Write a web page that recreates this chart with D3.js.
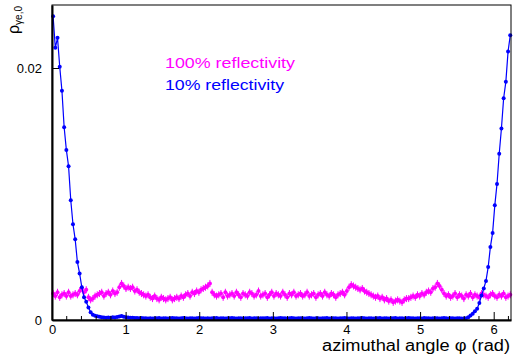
<!DOCTYPE html>
<html><head><meta charset="utf-8">
<script src="https://cdn.jsdelivr.net/npm/d3@7"></script>
<style>body{margin:0;background:#fff}svg{display:block}text{font-family:"Liberation Sans",Arial,sans-serif}</style>
</head><body>
<svg id="c" width="513" height="362"></svg>
<script>
// bin centres: phi = phiStart + i*phiStep (rad)
const phiStart = 0.015, phiStep = 0.03;
// values in units of 1e-3
const blueVals = [
24.1,21.6,22.4,20.1,18.2,15.3,13.5,12.2,9.5,7.6,6.4,4.6,3.7,2.6,1.8,1.45,1.0,0.62,0.42,0.34,0.3,0.26,0.22,0.2,
0.18,0.2,0.17,0.21,0.19,0.24,0.28,0.32,0.26,0.22,0.2,0.18,0.17,0.16,0.15,0.14,0.15,0.13,0.14,0.12,
0.13,0.12,0.14,0.13,0.15,0.12,0.13,0.14,0.12,0.13,0.15,0.14,0.13,0.12,0.14,0.16,0.13,0.12,0.13,0.14,
0.12,0.13,0.15,0.13,0.14,0.12,0.13,0.12,0.14,0.13,0.15,0.12,0.14,0.13,0.12,0.13,0.14,0.15,0.13,0.12,
0.14,0.13,0.12,0.14,0.13,0.15,0.12,0.13,0.14,0.12,0.13,0.14,0.13,0.15,0.12,0.13,0.14,0.12,0.13,0.15,
0.13,0.14,0.12,0.13,0.15,0.14,0.12,0.13,0.14,0.13,0.12,0.14,0.15,0.13,0.12,0.14,0.13,0.12,0.14,0.13,
0.15,0.12,0.13,0.14,0.13,0.12,0.14,0.13,0.15,0.14,0.12,0.13,0.14,0.12,0.13,0.14,0.15,0.13,0.12,0.14,
0.13,0.12,0.14,0.13,0.15,0.12,0.14,0.13,0.12,0.14,0.13,0.15,0.12,0.13,0.14,0.12,0.13,0.15,0.14,0.13,
0.12,0.14,0.13,0.12,0.15,0.13,0.14,0.12,0.13,0.14,0.13,0.12,0.14,0.15,0.13,0.12,0.14,0.13,0.12,0.13,
0.14,0.12,
0.12,0.14,0.22,0.35,0.5,0.7,0.9,1.35,1.95,2.5,3.1,4.2,5.8,6.9,9.1,10.8,13.2,15.2,17.6,18.9,21.3,22.6
];
const magentaVals = [
2.1,1.9,2.2,1.8,2.0,2.1,1.9,2.2,1.9,2.0,2.1,2.0,
2.3,2.5,2.2,2.4,
1.8,1.6,1.7,1.9,
2.0,2.1,2.2,1.9,2.1,2.2,2.0,2.3,2.1,2.2,
2.6,2.9,2.7,2.5,
2.6,2.5,2.6,2.3,2.4,
2.2,2.1,2.0,1.9,2.0,
1.8,1.7,1.9,1.7,1.6,1.8,1.7,1.6,1.7,1.8,1.6,1.7,1.8,1.7,1.9,1.8,
2.0,2.1,1.9,2.2,2.1,2.3,2.2,
2.4,2.5,2.6,2.7,2.9,
2.2,2.0,1.9,
2.0,2.1,1.8,2.2,1.9,2.0,2.1,1.9,2.2,2.0,1.8,2.1,2.0,1.9,2.2,2.1,1.9,2.0,2.3,1.9,
2.0,2.1,1.8,2.0,2.2,1.9,2.1,2.0,1.9,2.2,2.0,1.8,2.1,2.0,2.2,1.9,2.0,2.1,1.9,2.0,
2.2,1.9,2.0,2.1,1.8,2.0,2.1,1.9,2.2,2.0,1.9,2.1,2.0,1.8,2.0,2.1,2.2,2.0,
2.3,2.6,2.8,2.7,2.6,2.5,
2.4,2.5,2.3,2.2,2.1,2.0,1.9,
1.8,1.9,1.7,1.8,1.6,1.7,
1.5,1.6,1.4,1.5,1.6,1.5,1.4,1.6,1.7,
1.7,1.8,1.9,1.8,2.0,1.9,2.1,2.0,2.2,
2.3,2.2,2.5,2.6,2.9,2.7,
2.4,2.1,1.9,
2.0,1.8,1.9,2.1,1.8,2.0,1.9,1.7,2.0,1.9,2.1,1.8,2.0,1.9,1.8,2.1,2.0,1.9,1.8,2.0,
2.1,1.9,1.8,2.0,1.9,2.1,1.8,1.9,2.0
];
const magErr = 0.28; // 1e-3
const xTicks = [0,1,2,3,4,5,6];
const yTicks = [0, 0.02];
const yTickLabels = ["0", "0.02"];
const legendLabels = ["100% reflectivity", "10% reflectivity"];
const xTitle = "azimuthal angle \u03c6 (rad)";

const blue = blueVals.map((v,i)=>({x: phiStart+i*phiStep, y: v*1e-3}));
const mag = magentaVals.map((v,i)=>({x: phiStart+i*phiStep, y: v*1e-3}));

const svg = d3.select("#c");
const L=52, R=511, T=5, B=320;
const x = d3.scaleLinear().domain([0, 6.235]).range([L, R]);
const y = d3.scaleLinear().domain([0, 0.025]).range([B, T]);

const MAG="#ff00ff", BLU="#0000ff";

// magenta error bars + markers
const gm = svg.append("g");
gm.selectAll("line.v").data(mag).join("line").attr("class","v")
  .attr("x1",d=>x(d.x)).attr("x2",d=>x(d.x))
  .attr("y1",d=>y(d.y-magErr*1e-3)).attr("y2",d=>y(d.y+magErr*1e-3))
  .attr("stroke",MAG).attr("stroke-width",1);
gm.selectAll("line.h").data(mag).join("line").attr("class","h")
  .attr("x1",d=>x(d.x-phiStep/2)).attr("x2",d=>x(d.x+phiStep/2))
  .attr("y1",d=>y(d.y)).attr("y2",d=>y(d.y))
  .attr("stroke",MAG).attr("stroke-width",1);
gm.selectAll("circle").data(mag).join("circle")
  .attr("cx",d=>x(d.x)).attr("cy",d=>y(d.y)).attr("r",2).attr("fill",MAG);

// blue line + markers
const gb = svg.append("g");
gb.append("path").datum(blue)
  .attr("d", d3.line().x(d=>x(d.x)).y(d=>y(d.y)))
  .attr("fill","none").attr("stroke",BLU).attr("stroke-width",1.2);
gb.selectAll("circle").data(blue).join("circle")
  .attr("cx",d=>x(d.x)).attr("cy",d=>y(d.y)).attr("r",2).attr("fill",BLU);

// frame
svg.append("rect").attr("x",L).attr("y",T).attr("width",R-L).attr("height",B-T)
  .attr("fill","none").attr("stroke","#000").attr("stroke-width",1);

// x axis
const xa = d3.axisBottom(x).tickValues(xTicks).tickSizeInner(-8).tickSizeOuter(0).tickPadding(5).tickFormat(d3.format("d"));
const gx = svg.append("g").attr("transform",`translate(0,${B})`).call(xa);
gx.select(".domain").attr("stroke-width",2);
gx.selectAll(".tick line").attr("stroke-width",1);
gx.selectAll(".tick text").attr("font-size",13).attr("fill","#000").attr("font-family","Liberation Sans, Arial, sans-serif");
// minor ticks
const minor = d3.range(0, 6.23, 0.2).filter(v=>Math.abs(v-Math.round(v))>1e-6);
gx.selectAll(".minor").data(minor).join("line").attr("class","minor")
  .attr("x1",d=>x(d)).attr("x2",d=>x(d)).attr("y1",0).attr("y2",-4).attr("stroke","#000");

// y axis
const ya = d3.axisLeft(y).tickValues(yTicks).tickSizeInner(-7).tickSizeOuter(0).tickPadding(10)
  .tickFormat((d,i)=>yTickLabels[i]);
const gy = svg.append("g").attr("transform",`translate(${L},0)`).call(ya);
gy.select(".domain").attr("stroke-width",2);
gy.selectAll(".tick text").attr("font-size",13).attr("fill","#000").attr("font-family","Liberation Sans, Arial, sans-serif");

// axis titles
svg.append("text").attr("x",510).attr("y",351).attr("text-anchor","end")
  .attr("font-size",16).attr("textLength",188).attr("lengthAdjust","spacingAndGlyphs").text(xTitle);
const yl = svg.append("text").attr("transform","translate(19,34) rotate(-90)").attr("font-size",16);
yl.append("tspan").text("\u03c1");
yl.append("tspan").attr("font-size",10).attr("dy",3).text("\u03b3e,0");

// legend texts
svg.append("text").attr("x",165).attr("y",68).attr("fill",MAG).attr("font-size",15)
  .attr("textLength",130).attr("lengthAdjust","spacingAndGlyphs").text(legendLabels[0]);
svg.append("text").attr("x",165).attr("y",90).attr("fill",BLU).attr("font-size",15)
  .attr("textLength",119).attr("lengthAdjust","spacingAndGlyphs").text(legendLabels[1]);
</script>
</body></html>
